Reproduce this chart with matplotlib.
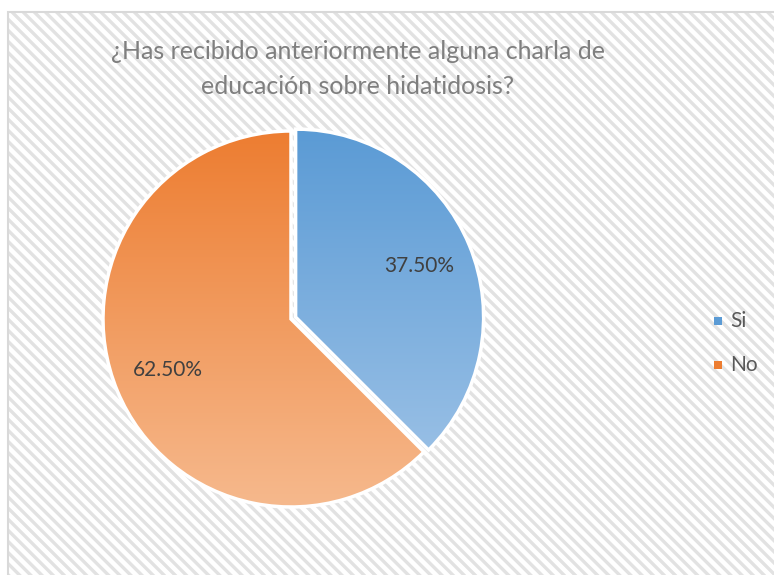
import numpy as np
import matplotlib
matplotlib.use("Agg")
import matplotlib.pyplot as plt
from matplotlib.patches import Rectangle, Wedge
from matplotlib.colors import LinearSegmentedColormap

plt.rcParams['font.family'] = ['Lato', 'DejaVu Sans']

title = "¿Has recibido anteriormente alguna charla de\neducación sobre hidatidosis?"
labels = ["Si", "No"]
values = [37.5, 62.5]
top_colors = ["#5b9bd5", "#ed7d31"]
bottom_colors = ["#a2c5e8", "#f6b98d"]

W, H = 774, 575
fig = plt.figure(figsize=(W / 100, H / 100), dpi=100)
fig.patch.set_facecolor("white")

# striped chart area background with light border
plt.rcParams['hatch.linewidth'] = 2.4
bg = Rectangle((8 / W, 0), 1 - 8 / W, 1 - 12 / H, transform=fig.transFigure,
               facecolor="white", edgecolor="#e2e2e2", hatch="\\\\\\", linewidth=0,
               zorder=-2)
fig.patches.append(bg)
border = Rectangle((8 / W, -0.01), 1.02, 1 - 12 / H + 0.01, transform=fig.transFigure,
                   facecolor="none", edgecolor="#d9d9d9", linewidth=1.5, zorder=-1)
fig.patches.append(border)

fig.text(358 / W, 1 - 69 / H, title, ha="center", va="center", fontsize=18,
         color="#7f7f7f", linespacing=1.6)

# pie axes: center ~ (291, 319), radius ~188 px
r_px = 188
cx, cy = 291, 319
ax = fig.add_axes([(cx - 200) / W, 1 - (cy + 200) / H, 400 / W, 400 / H])
ax.set_xlim(-200, 200)
ax.set_ylim(-200, 200)
ax.set_aspect("equal")
ax.axis("off")

explode = [5, 0]
start = 90
total = sum(values)
for i, v in enumerate(values):
    sweep = 360 * v / total
    t1, t2 = start - sweep, start
    mid = np.deg2rad((t1 + t2) / 2)
    ox, oy = explode[i] * np.cos(mid), explode[i] * np.sin(mid)
    w = Wedge((ox, oy), r_px, t1, t2, facecolor="none", edgecolor="white", linewidth=0)
    ax.add_patch(w)
    cmap = LinearSegmentedColormap.from_list("g%d" % i, [bottom_colors[i], top_colors[i]])
    grad = np.linspace(0, 1, 256).reshape(-1, 1)
    im = ax.imshow(grad, cmap=cmap, origin="lower", aspect="auto",
                   extent=[-r_px - 10, r_px + 10, -r_px, r_px], zorder=1)
    im.set_clip_path(w)
    edge = Wedge((ox, oy), r_px, t1, t2, facecolor="none", edgecolor="white",
                 linewidth=2.5, zorder=2)
    ax.add_patch(edge)
    lx = ox + 0.71 * r_px * np.cos(mid)
    ly = oy + 0.71 * r_px * np.sin(mid)
    ax.text(lx, ly, "%.2f%%" % v, ha="center", va="center", fontsize=15,
            color="#404040", zorder=3)
    start = t1

# legend
leg_y = [321, 365]
for i, lab in enumerate(labels):
    fig.patches.append(Rectangle((714 / W, 1 - (leg_y[i] + 4) / H), 8 / W, 8 / H,
                                 transform=fig.transFigure, facecolor=top_colors[i],
                                 edgecolor="none"))
    fig.text(730 / W, 1 - leg_y[i] / H, lab, ha="left", va="center", fontsize=15,
             color="#595959")

fig.savefig("out.png", dpi=100)
